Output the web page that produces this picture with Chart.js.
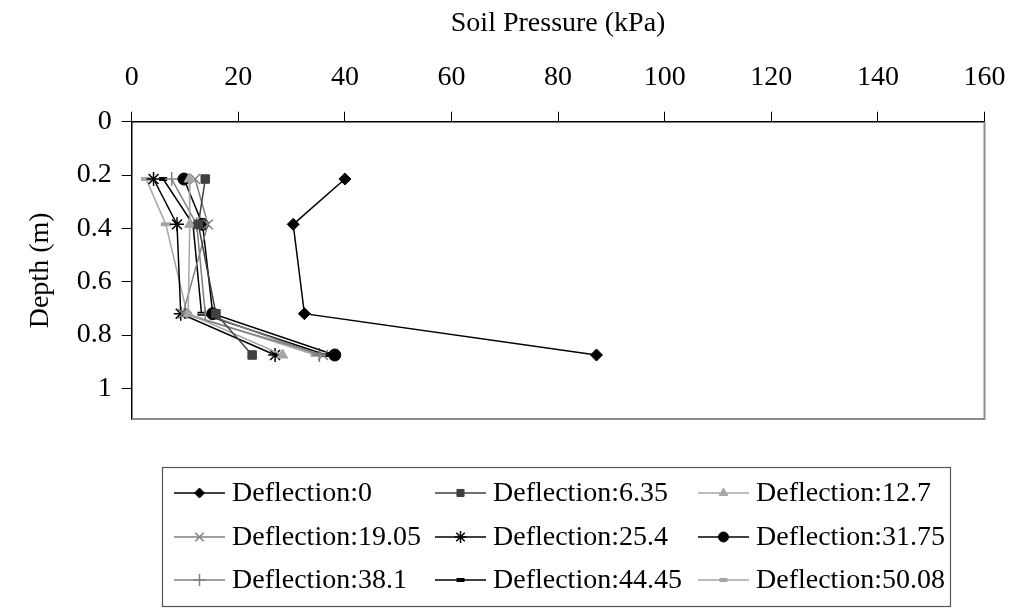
<!DOCTYPE html>
<html>
<head>
<meta charset="utf-8">
<script src="https://cdn.jsdelivr.net/npm/chart.js"></script>
<style>
  body { margin: 0; background: #fff; }
  canvas { display: block; }
</style>
</head>
<body>
<canvas id="soil" width="1013" height="609"></canvas>
<script>
// depth of each reading (m)
var depths = [0.215, 0.385, 0.72, 0.875];

// soil pressure (kPa) per deflection
var deflectionLabels = ['Deflection:0', 'Deflection:6.35', 'Deflection:12.7',
                        'Deflection:19.05', 'Deflection:25.4', 'Deflection:31.75',
                        'Deflection:38.1', 'Deflection:44.45', 'Deflection:50.08'];
var d0    = [40, 30.3, 32.4, 87.2];
var d635  = [13.8, 12.5, 15.8, 22.6];
var d127  = [10.8, 10.9, 10.6, 28.3];
var d1905 = [11.9, 14.3, 9.6, 35.9];
var d254  = [4.1, 8.5, 9.2, 26.9];
var d3175 = [9.8, 13.3, 15.2, 38.1];
var d381  = [7.5, 12.2, 13.8, 35.2];
var d4445 = [5.9, 11.5, 13.1, 36.5];
var d5008 = [2.7, 6.4, 10.4, 34.5];

var xTicks = [0, 20, 40, 60, 80, 100, 120, 140, 160];
var yTicks = [0, 0.2, 0.4, 0.6, 0.8, 1];

var series = [d0, d635, d127, d1905, d254, d3175, d381, d4445, d5008];
var colors = ['#000000', '#404040', '#a6a6a6', '#808080', '#000000', '#000000', '#808080', '#000000', '#a6a6a6'];
var markers = ['rectRot', 'rect', 'triangle', 'crossRot', 'star', 'circle', 'cross', 'line', 'line'];
var radii = [6, 6, 6, 7, 7, 6, 7, 4, 5];
var markerWidth = [1, 1, 1, 1.5, 1.5, 1, 1.5, 4, 4];

var FONT = "'Liberation Serif', 'Times New Roman', serif";

var datasets = [];
for (var i = 0; i < series.length; i++) {
    var pts = [];
    for (var j = 0; j < depths.length; j++) {
        pts.push({x: series[i][j], y: depths[j]});
    }
    datasets.push({
        label: deflectionLabels[i],
        data: pts,
        showLine: true,
        borderColor: colors[i],
        backgroundColor: colors[i],
        borderWidth: 1.5,
        pointStyle: markers[i],
        pointRadius: radii[i],
        pointBorderColor: colors[i],
        pointBackgroundColor: colors[i],
        pointBorderWidth: markerWidth[i],
        tension: 0
    });
}

// gray frame on right and bottom of the plot
var frame = {
    id: 'frame',
    beforeDatasetsDraw: function(chart) {
        var a = chart.chartArea, ctx = chart.ctx;
        ctx.save();
        ctx.strokeStyle = '#8c8c8c';
        ctx.lineWidth = 2;
        ctx.beginPath();
        ctx.moveTo(a.right, a.top);
        ctx.lineTo(a.right, a.bottom);
        ctx.lineTo(a.left, a.bottom);
        ctx.stroke();
        ctx.restore();
    }
};

// boxed legend with 3 columns
var boxLegend = {
    id: 'boxLegend',
    afterDraw: function(chart) {
        var ctx = chart.ctx;
        var colX = [174, 435, 698];
        var rowY = [493, 537, 580];
        ctx.save();
        ctx.strokeStyle = '#555';
        ctx.lineWidth = 1.2;
        ctx.strokeRect(162.5, 467.5, 788, 139);
        chart.data.datasets.forEach(function(ds, i) {
            var x = colX[i % 3], y = rowY[Math.floor(i / 3)];
            ctx.strokeStyle = ds.borderColor;
            ctx.lineWidth = 1.5;
            ctx.beginPath();
            ctx.moveTo(x, y);
            ctx.lineTo(x + 51, y);
            ctx.stroke();
            ctx.fillStyle = ds.pointBackgroundColor;
            ctx.strokeStyle = ds.pointBorderColor;
            ctx.lineWidth = ds.pointBorderWidth;
            Chart.helpers.drawPoint(ctx, {
                pointStyle: ds.pointStyle,
                radius: Math.max(ds.pointRadius - 1, 4),
                rotation: 0,
                borderWidth: ds.pointBorderWidth
            }, x + 25.5, y);
            ctx.fillStyle = '#000';
            ctx.font = '28px ' + FONT;
            ctx.textBaseline = 'middle';
            ctx.textAlign = 'left';
            ctx.fillText(ds.label, x + 58, y + 1);
        });
        ctx.restore();
    }
};

new Chart(document.getElementById('soil'), {
    type: 'scatter',
    data: { datasets: datasets },
    plugins: [frame, boxLegend],
    options: {
        responsive: false,
        animation: false,
        devicePixelRatio: 1,
        layout: { padding: { left: 0, right: 28.5, top: 0, bottom: 190 } },
        plugins: {
            legend: { display: false },
            tooltip: { enabled: false }
        },
        scales: {
            x: {
                type: 'linear',
                position: 'top',
                min: 0,
                max: 160,
                afterBuildTicks: function(s) { s.ticks = xTicks.map(function(v) { return {value: v}; }); },
                afterFit: function(s) { s.height = 121.7; s.paddingLeft = 0; s.paddingRight = 0; },
                ticks: { color: '#000', font: { family: FONT, size: 28 }, padding: 17, maxRotation: 0 },
                grid: { drawOnChartArea: false, tickLength: 10, color: '#000', tickColor: '#000' },
                border: { color: '#000', width: 1.5 },
                title: { display: true, text: 'Soil Pressure (kPa)', color: '#000',
                         font: { family: FONT, size: 28 }, padding: { top: 7, bottom: 0 } }
            },
            y: {
                type: 'linear',
                reverse: true,
                min: 0,
                max: 1.115,
                afterBuildTicks: function(s) { s.ticks = yTicks.map(function(v) { return {value: v}; }); },
                afterFit: function(s) { s.width = 131.7; s.paddingTop = 0; s.paddingBottom = 0; },
                ticks: { color: '#000', font: { family: FONT, size: 28 }, padding: 10,
                         callback: function(v) { return String(+v.toFixed(1)); } },
                grid: { drawOnChartArea: false, tickLength: 10, color: '#000', tickColor: '#000' },
                border: { color: '#000', width: 1.5 },
                title: { display: true, text: 'Depth (m)', color: '#000',
                         font: { family: FONT, size: 28 }, padding: { top: 24, bottom: 0 } }
            }
        }
    }
});
</script>
</body>
</html>
